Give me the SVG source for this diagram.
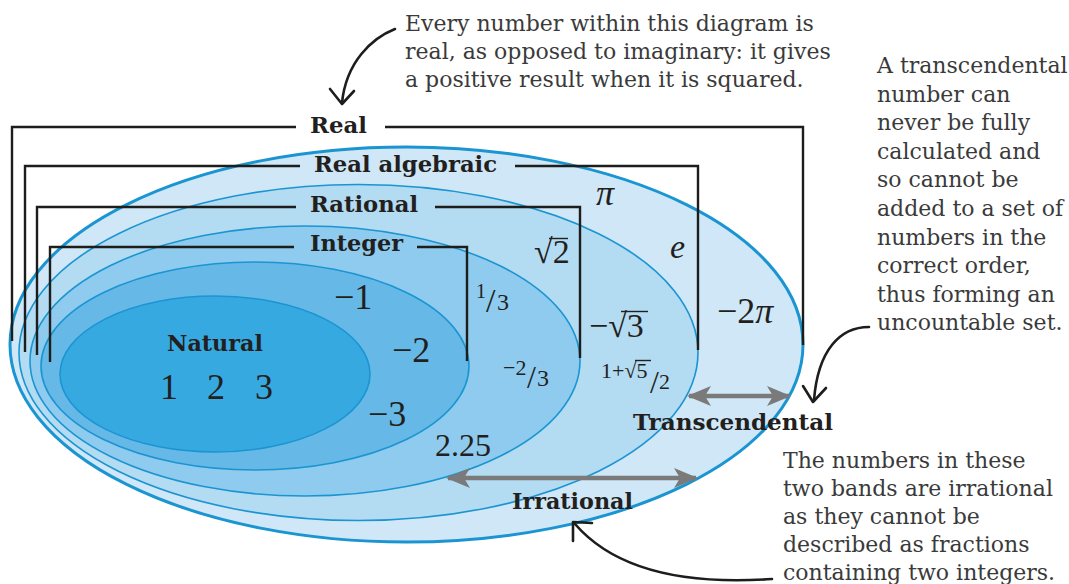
<svg xmlns="http://www.w3.org/2000/svg" width="1069" height="584" viewBox="0 0 1069 584">
<defs>
<style>
.ell{stroke:#1b95d2;stroke-width:1.6}
.br{fill:none;stroke:#1d1d1b;stroke-width:2.4}
.lab{font-family:"DejaVu Serif",serif;font-weight:bold;font-size:22px;fill:#231f20}
.note{font-family:"DejaVu Serif",serif;font-size:22px;fill:#3a3a3a}
.num{font-family:"Liberation Serif","Times New Roman",serif;fill:#231f20}
.it{font-style:italic}
.cv{fill:none;stroke:#1d1d1b;stroke-width:2.6;stroke-linecap:round;stroke-linejoin:round}
.ga{fill:none;stroke:#7a7a7a;stroke-width:4.5}
.vin{stroke:#231f20;stroke-width:1.4}
</style>
<marker id="gh" viewBox="0 0 24 20" refX="22" refY="10" markerWidth="24" markerHeight="20" markerUnits="userSpaceOnUse" orient="auto-start-reverse">
<path d="M0,0 L24,10 L0,20 L6,10 Z" fill="#7a7a7a"/>
</marker>
</defs>
<rect width="1069" height="584" fill="#ffffff"/>

<g id="real">
<ellipse cx="406.5" cy="344.5" rx="396.5" ry="197.5" fill="#cfe7f6" stroke="#1b95d2" stroke-width="3"/>
</g>
<g id="real-algebraic">
<ellipse class="ell" cx="358.5" cy="352.5" rx="339.5" ry="168" fill="#b3dbf2"/>
</g>
<g id="rational">
<ellipse class="ell" cx="305" cy="361" rx="275" ry="135" fill="#8ecbee"/>
</g>
<g id="integer">
<ellipse class="ell" cx="255" cy="366" rx="214" ry="104" fill="#66b9e7"/>
</g>
<g id="natural">
<ellipse class="ell" cx="215" cy="374" rx="155" ry="78" fill="#37a9e1"/>
</g>

<g id="brackets">
<path class="br" d="M12,341 V127 H296 M385,127 H803 V345"/>
<path class="br" d="M25,352 V166 H300 M515,166 H698 V350"/>
<path class="br" d="M37,355 V207 H296 M435,207 H580 V358"/>
<path class="br" d="M50,362 V247 H294 M417,247 H467 V361"/>
</g>

<g id="labels">
<text class="lab" x="310" y="133" textLength="57" lengthAdjust="spacingAndGlyphs">Real</text>
<text class="lab" x="314" y="172" textLength="183" lengthAdjust="spacingAndGlyphs">Real algebraic</text>
<text class="lab" x="310" y="212" textLength="108" lengthAdjust="spacingAndGlyphs">Rational</text>
<text class="lab" x="310" y="251" textLength="93" lengthAdjust="spacingAndGlyphs">Integer</text>
<text class="lab" x="167" y="351" textLength="96" lengthAdjust="spacingAndGlyphs">Natural</text>
<text class="lab" x="633" y="430" textLength="200" lengthAdjust="spacingAndGlyphs">Transcendental</text>
<text class="lab" x="512" y="509" textLength="121" lengthAdjust="spacingAndGlyphs">Irrational</text>
</g>

<g id="numbers">
<text class="num" x="160" y="399" font-size="36">1</text>
<text class="num" x="207" y="399" font-size="36">2</text>
<text class="num" x="255" y="399" font-size="36">3</text>
<text class="num" x="334" y="309" font-size="36">−1</text>
<text class="num" x="392" y="362" font-size="36">−2</text>
<text class="num" x="368" y="426" font-size="36">−3</text>
<text class="num" x="435" y="456" font-size="32">2.25</text>
<text class="num" x="476" y="298" font-size="20">1</text>
<text class="num" x="486" y="312" font-size="34">/</text>
<text class="num" x="497" y="310" font-size="24">3</text>
<text class="num" x="503" y="375" font-size="22">−2</text>
<text class="num" x="527" y="388" font-size="32">/</text>
<text class="num" x="537" y="386" font-size="24">3</text>
<text class="num" x="534" y="263" font-size="34">√2</text>
<line class="vin" x1="549" y1="238.5" x2="568" y2="238.5"/>
<text class="num it" x="596" y="205" font-size="36">π</text>
<text class="num it" x="670" y="258" font-size="34">e</text>
<text class="num" x="589" y="337" font-size="34">−√3</text>
<line class="vin" x1="621" y1="311.5" x2="648" y2="311.5"/>
<text class="num" x="601" y="378" font-size="22">1+√5</text>
<line class="vin" x1="635" y1="360.5" x2="651" y2="360.5"/>
<text class="num" x="650" y="393" font-size="32">/</text>
<text class="num" x="659" y="389" font-size="22">2</text>
<text class="num" x="717" y="323" font-size="36">−2<tspan class="it">π</tspan></text>
</g>

<g id="connectors">
<path class="ga" d="M689,396 H789" marker-start="url(#gh)" marker-end="url(#gh)"/>
<path class="ga" d="M448,478 H696" marker-start="url(#gh)" marker-end="url(#gh)"/>
<path class="cv" d="M395,29 C372,38 346,62 342,103"/>
<path class="cv" d="M330,89 L342,104 L354,91"/>
<path class="cv" d="M869,327 C840,327 818,350 814,400"/>
<path class="cv" d="M803,386 L813,402 L826,388"/>
<path class="cv" d="M772,579 C700,584 620,576 575,524"/>
<path class="cv" d="M573,541 L573,522 L592,523"/>
</g>

<g id="notes">
<text class="note" x="405" y="31">Every number within this diagram is</text>
<text class="note" x="405" y="59">real, as opposed to imaginary: it gives</text>
<text class="note" x="405" y="87">a positive result when it is squared.</text>
<text class="note" x="877" y="73">A transcendental</text>
<text class="note" x="877" y="101.6">number can</text>
<text class="note" x="877" y="130.2">never be fully</text>
<text class="note" x="877" y="158.8">calculated and</text>
<text class="note" x="877" y="187.4">so cannot be</text>
<text class="note" x="877" y="216">added to a set of</text>
<text class="note" x="877" y="244.6">numbers in the</text>
<text class="note" x="877" y="273.2">correct order,</text>
<text class="note" x="877" y="301.8">thus forming an</text>
<text class="note" x="877" y="330.4">uncountable set.</text>
<text class="note" x="783" y="468">The numbers in these</text>
<text class="note" x="783" y="496">two bands are irrational</text>
<text class="note" x="783" y="524">as they cannot be</text>
<text class="note" x="783" y="552">described as fractions</text>
<text class="note" x="783" y="580">containing two integers.</text>
</g>
</svg>
